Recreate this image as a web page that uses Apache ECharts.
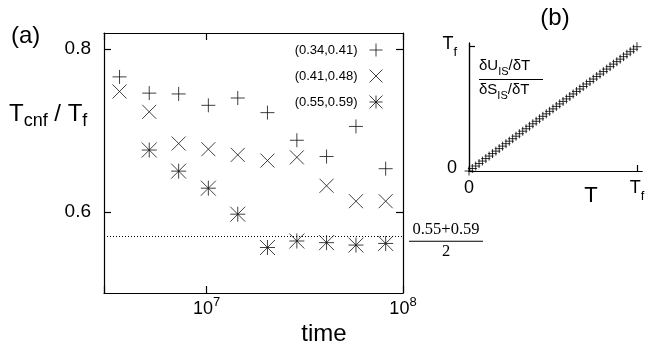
<!DOCTYPE html>
<html>
<head>
<meta charset="utf-8">
<script src="https://cdn.jsdelivr.net/npm/echarts@6/dist/echarts.min.js"></script>
<style>
html, body { margin: 0; padding: 0; background: #fff; }
#chart { width: 657px; height: 346px; }
</style>
</head>
<body>
<div id="chart"></div>
<script>
var chart = echarts.init(document.getElementById('chart'));
var FONT = "'Liberation Sans', Arial, sans-serif";

// panel (a): run lengths and T_cnf / T_f for three temperature windows
var times = [3.6e6, 5.1e6, 7.2e6, 1.02e7, 1.44e7, 2.04e7, 2.88e7, 4.08e7, 5.76e7, 8.16e7];
var seriesNames = ['(0.34,0.41)', '(0.41,0.48)', '(0.55,0.59)'];
var plusVals = [0.766, 0.746, 0.745, 0.731, 0.740, 0.722, 0.688, 0.668, 0.705, 0.653];
var crossVals = [0.748, 0.723, 0.684, 0.677, 0.670, 0.663, 0.667, 0.632, 0.613, 0.613];
var starVals = [null, 0.676, 0.650, 0.629, 0.597, 0.556, 0.564, 0.562, 0.559, 0.561];
var refLevel = 0.57;
var yTicksA = [0.6, 0.8];

// panel (b): ratio of derivatives vs T (both in units of T_f)
var bT = [0, 0.02, 0.04, 0.06, 0.08, 0.1, 0.12, 0.14, 0.16, 0.18, 0.2, 0.22, 0.24, 0.26, 0.28, 0.3,
    0.32, 0.34, 0.36, 0.38, 0.4, 0.42, 0.44, 0.46, 0.48, 0.5, 0.52, 0.54, 0.56, 0.58, 0.6, 0.62, 0.64,
    0.66, 0.68, 0.7, 0.72, 0.74, 0.76, 0.78, 0.8, 0.82, 0.84, 0.86, 0.88, 0.9, 0.92, 0.94, 0.96, 0.98, 1.0];
var bRatio = [0, 0.02, 0.04, 0.06, 0.08, 0.1, 0.12, 0.14, 0.16, 0.18, 0.2, 0.22, 0.24, 0.26, 0.28, 0.3,
    0.32, 0.34, 0.36, 0.38, 0.4, 0.42, 0.44, 0.46, 0.48, 0.5, 0.52, 0.54, 0.56, 0.58, 0.6, 0.62, 0.64,
    0.66, 0.68, 0.7, 0.72, 0.74, 0.76, 0.78, 0.8, 0.82, 0.84, 0.86, 0.88, 0.9, 0.92, 0.94, 0.96, 0.98, 1.0];
var bTicks = [0, 1];

var PLUS = 'path://M0,5L10,5M5,0L5,10';
var CROSS = 'path://M0,0L10,10M0,10L10,0';
var STAR = 'path://M0,0L10,10M0,10L10,0M5,0L5,10M0,5L10,5';

function pairs(xs, ys) {
    var out = [];
    for (var i = 0; i < xs.length; i++) {
        if (ys[i] != null) out.push([xs[i], ys[i]]);
    }
    return out;
}

function axisLine() { return {lineStyle: {color: '#000', width: 1.2}}; }
function tickIn(len, vals) {
    var t = {show: true, inside: true, length: len, lineStyle: {color: '#000', width: 1.2}};
    if (vals) t.customValues = vals;
    return t;
}
var markStyle = {color: 'rgba(0,0,0,0)', borderColor: '#111', borderWidth: 1};

function powLabel(v) {
    var e = Math.log10(v);
    var r = Math.round(e);
    if (Math.abs(e - r) > 1e-6) return '';
    return '{b|10}{s|' + r + '}';
}
function tfLabel(v) {
    if (v === 0) return '{n|0}';
    if (v === 1) return '{n|T}{s|f}';
    return '';
}
var tfRich = {
    n: {fontSize: 18, fontFamily: FONT, color: '#000', lineHeight: 24, verticalAlign: 'top'},
    s: {fontSize: 13, fontFamily: FONT, color: '#000', verticalAlign: 'bottom'}
};

var option = {
    animation: false,
    backgroundColor: '#fff',
    textStyle: {fontFamily: FONT, color: '#000'},
    grid: [
        {left: 104, top: 33, width: 299, height: 260},
        {left: 469, top: 43, width: 173, height: 128}
    ],
    legend: {
        data: seriesNames,
        orient: 'vertical',
        align: 'right',
        right: 274,
        top: 43,
        padding: 0,
        itemWidth: 13,
        itemHeight: 13,
        itemGap: 12,
        selectedMode: false,
        itemStyle: {borderWidth: 1, borderColor: '#111', color: 'rgba(0,0,0,0)'},
        textStyle: {fontSize: 13, color: '#000', fontFamily: FONT, padding: [0, 7, 0, 0]}
    },
    xAxis: [
        {
            gridIndex: 0, type: 'log', min: 3e6, max: 1e8,
            axisLine: axisLine(), axisTick: tickIn(7), splitLine: {show: false},
            axisLabel: {
                margin: 3, formatter: powLabel,
                rich: {
                    b: {fontSize: 18, fontFamily: FONT, color: '#000'},
                    s: {fontSize: 13, fontFamily: FONT, color: '#000', padding: [0, 0, 14, 0]}
                }
            }
        },
        {
            gridIndex: 0, type: 'log', min: 3e6, max: 1e8, position: 'top',
            axisLine: axisLine(), axisTick: tickIn(7), splitLine: {show: false},
            axisLabel: {show: false}
        },
        {
            gridIndex: 1, type: 'value', min: 0, max: 1.03,
            axisLine: axisLine(), splitLine: {show: false},
            axisTick: tickIn(6, bTicks),
            axisLabel: {margin: 8, customValues: bTicks, formatter: tfLabel, rich: tfRich}
        },
        {
            gridIndex: 1, type: 'value', min: 0, max: 1.03, position: 'top',
            axisLine: axisLine(), axisTick: {show: false}, splitLine: {show: false},
            axisLabel: {show: false}
        }
    ],
    yAxis: [
        {
            gridIndex: 0, type: 'value', min: 0.5, max: 0.82,
            axisLine: axisLine(), splitLine: {show: false},
            axisTick: tickIn(7, yTicksA),
            axisLabel: {
                margin: 13, customValues: yTicksA, fontSize: 19, color: '#000', fontFamily: FONT,
                formatter: function (v) { return v.toFixed(1); }
            }
        },
        {
            gridIndex: 0, type: 'value', min: 0.5, max: 0.82, position: 'right',
            axisLine: axisLine(), splitLine: {show: false},
            axisTick: tickIn(7, yTicksA),
            axisLabel: {show: false}
        },
        {
            gridIndex: 1, type: 'value', min: 0, max: 1.03,
            axisLine: axisLine(), splitLine: {show: false},
            axisTick: tickIn(6, bTicks),
            axisLabel: {margin: 12, customValues: bTicks, formatter: tfLabel, rich: tfRich}
        },
        {
            gridIndex: 1, type: 'value', min: 0, max: 1.03, position: 'right',
            axisLine: axisLine(), axisTick: {show: false}, splitLine: {show: false},
            axisLabel: {show: false}
        }
    ],
    series: [
        {
            name: seriesNames[0], type: 'scatter', xAxisIndex: 0, yAxisIndex: 0,
            symbol: PLUS, symbolSize: 14, itemStyle: markStyle,
            data: pairs(times, plusVals)
        },
        {
            name: seriesNames[1], type: 'scatter', xAxisIndex: 0, yAxisIndex: 0,
            symbol: CROSS, symbolSize: 14, itemStyle: markStyle,
            data: pairs(times, crossVals)
        },
        {
            name: seriesNames[2], type: 'scatter', xAxisIndex: 0, yAxisIndex: 0,
            symbol: STAR, symbolSize: 15, itemStyle: markStyle,
            data: pairs(times, starVals),
            markLine: {
                silent: true,
                symbol: ['none', 'none'],
                lineStyle: {color: '#000', width: 1, type: [1, 2]},
                label: {
                    show: true, position: 'end', distance: 6, padding: [10, 0, 0, 0],
                    formatter: '{t|0.55+0.59}\n{bar|}\n{t|2}',
                    rich: {
                        t: {fontFamily: "'Liberation Serif', 'Times New Roman', serif", fontSize: 16.5,
                            color: '#000', align: 'center', lineHeight: 17},
                        bar: {width: 74, height: 1, lineHeight: 5, backgroundColor: '#000', align: 'center'}
                    }
                },
                data: [{yAxis: refLevel}]
            }
        },
        {
            name: 'ratio', type: 'scatter', xAxisIndex: 2, yAxisIndex: 2,
            symbol: PLUS, symbolSize: 9,
            itemStyle: {color: 'rgba(0,0,0,0)', borderColor: '#000', borderWidth: 1},
            data: pairs(bT, bRatio)
        }
    ],
    graphic: [
        {type: 'text', x: 11, y: 36, style: {text: '(a)', fontSize: 24, fontFamily: FONT, fill: '#000', verticalAlign: 'middle'}},
        {type: 'text', x: 555, y: 18, style: {text: '(b)', fontSize: 24, fontFamily: FONT, fill: '#000', align: 'center', verticalAlign: 'middle'}},
        {type: 'text', x: 324, y: 334, style: {text: 'time', fontSize: 24, fontFamily: FONT, fill: '#000', align: 'center', verticalAlign: 'middle'}},
        {type: 'text', x: 591, y: 196, style: {text: 'T', fontSize: 22, fontFamily: FONT, fill: '#000', align: 'center', verticalAlign: 'middle'}},
        {
            type: 'text', x: 9, y: 116,
            style: {
                text: '{n|T}{s|cnf}{n| / T}{s|f}', fill: '#000', verticalAlign: 'middle',
                rich: {
                    n: {fontSize: 24, fontFamily: FONT, fill: '#000', lineHeight: 28, verticalAlign: 'top'},
                    s: {fontSize: 18, fontFamily: FONT, fill: '#000', verticalAlign: 'bottom'}
                }
            }
        },
        {
            type: 'text', x: 479, y: 58,
            style: {
                text: '{n|δU}{s|IS}{n|/δT}\n{bar|}\n{n|δS}{s|IS}{n|/δT}', fill: '#000', verticalAlign: 'top',
                rich: {
                    n: {fontSize: 15, fontFamily: FONT, fill: '#000', lineHeight: 19, verticalAlign: 'top'},
                    s: {fontSize: 11, fontFamily: FONT, fill: '#000', verticalAlign: 'bottom'},
                    bar: {width: 64, height: 1, lineHeight: 5, backgroundColor: '#000'}
                }
            }
        }
    ]
};

chart.setOption(option);
</script>
</body>
</html>
